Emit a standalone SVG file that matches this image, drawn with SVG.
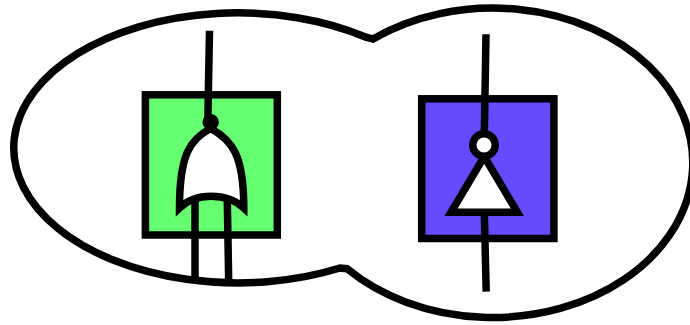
<svg xmlns="http://www.w3.org/2000/svg" width="690" height="325" viewBox="0 0 690 325">
<style>
.s{stroke:#000;stroke-width:7.5;fill:none;stroke-miterlimit:10}
.w{fill:#fff}
.g{fill:#66ff71}
.p{fill:#654bff}
</style>
<rect width="690" height="325" fill="#fff"/>
<g id="outline"><path class="s" d="M366 37.200A224 135 0 1 0 340 268L347 268.700A200 154.700 0 1 0 373 38.900Z"/></g>
<g id="box-or"><rect class="s g" x="145.400" y="94.800" width="131.900" height="140.200"/></g>
<g id="box-not"><rect class="s p" x="421.700" y="98.800" width="132.200" height="139.700"/></g>
<g id="connectors">
<path class="s" d="M209.500 30.700L207.800 122"/>
<path class="s" d="M195 200V280"/>
<path class="s" d="M227.300 200L228.700 282"/>
<path class="s" d="M486 34.300L484.300 135"/>
<path class="s" d="M484.300 212L486.200 291.700"/>
</g>
<g id="or-gate">
<path class="s w" d="M210.700 128.500C190 139 179.500 155 179.500 208C190 198 201 196.300 211 196.300C221 196.300 233 198 243.800 208C243.800 155 232 140 210.700 128.500Z"/>
<circle cx="210.700" cy="122.300" r="8.200" fill="#000"/>
</g>
<g id="not-gate">
<path class="s w" d="M484.200 156.500L517.400 212.300H451Z"/>
<circle class="s w" cx="484" cy="145" r="11.250"/>
</g>
</svg>
